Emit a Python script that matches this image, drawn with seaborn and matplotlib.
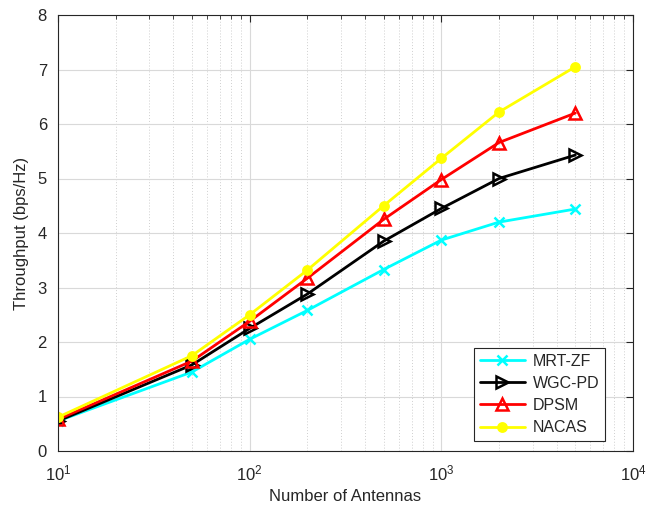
import matplotlib
matplotlib.use("Agg")
import matplotlib.pyplot as plt
import seaborn as sns
import pandas as pd
import numpy as np

antennas = [10, 50, 100, 200, 500, 1000, 2000, 5000]
mrt_zf = [0.55, 1.45, 2.05, 2.58, 3.33, 3.87, 4.20, 4.44]
wgc_pd = [0.55, 1.58, 2.25, 2.88, 3.85, 4.45, 5.00, 5.43]
dpsm = [0.58, 1.65, 2.38, 3.17, 4.25, 4.98, 5.66, 6.20]
nacas = [0.62, 1.75, 2.50, 3.32, 4.50, 5.37, 6.22, 7.05]

series_names = ["MRT-ZF", "WGC-PD", "DPSM", "NACAS"]
series_vals = [mrt_zf, wgc_pd, dpsm, nacas]
colors = ["#00FFFF", "#000000", "#FF0000", "#FFFF00"]
markers = ["x", ">", "^", "o"]

sns.set_style("white")
plt.rcParams['font.family'] = ['Liberation Sans', 'DejaVu Sans']

df = pd.DataFrame({
    "Antennas": antennas * 4,
    "Throughput": sum(series_vals, []),
    "Method": sum([[n] * len(antennas) for n in series_names], []),
})

fig = plt.figure(figsize=(6.62, 5.08), dpi=100)
ax = fig.add_axes([58/662, 1 - 451/508, (633-58)/662, (451-15)/508])

for name, col, mk in zip(series_names, colors, markers):
    sub = df[df.Method == name]
    kw = dict(markersize=7, markeredgewidth=1.8, markeredgecolor=col)
    if mk in (">", "^"):
        kw.update(markerfacecolor="none", markersize=9)
    elif mk == "o":
        kw.update(markerfacecolor=col, markersize=6)
    sns.lineplot(data=sub, x="Antennas", y="Throughput", ax=ax, color=col,
                 marker=mk, linewidth=2, label=name, **kw)

ax.set_xscale("log")
ax.set_xlim(10, 1e4)
ax.set_ylim(0, 8)
ax.set_yticks(range(0, 9))
ax.grid(True, which="major", color="#d9d9d9", linewidth=0.8, linestyle="-")
ax.grid(True, which="minor", color="#cfcfcf", linewidth=0.7, linestyle=(0, (1, 2)))
ax.minorticks_on()
ax.tick_params(which="both", direction="in", top=True, right=True, labelsize=12, color="#262626")
ax.tick_params(which="major", length=5)
ax.tick_params(which="minor", length=3)
ax.tick_params(axis="x", which="major", pad=9)
ax.tick_params(axis="y", which="major", pad=8)
ax.tick_params(axis="y", which="minor", left=False, right=False)
ax.yaxis.set_minor_locator(matplotlib.ticker.NullLocator())
for s in ax.spines.values():
    s.set_color("#262626")
    s.set_linewidth(0.8)
ax.set_xlabel("Number of Antennas", fontsize=12, color="#262626", labelpad=4)
ax.set_ylabel("Throughput (bps/Hz)", fontsize=12, color="#262626", labelpad=6)
for lab in ax.get_xticklabels() + ax.get_yticklabels():
    lab.set_color("#262626")

leg = ax.legend(loc="lower right", fontsize=11.5, frameon=True, fancybox=False,
                edgecolor="#262626", framealpha=1, borderpad=0.35, labelspacing=0.45,
                handlelength=2.8, handletextpad=0.5, bbox_to_anchor=(0.965, 0.005))
leg.get_frame().set_linewidth(0.8)

fig.savefig("out.png", dpi=100, facecolor="white")
